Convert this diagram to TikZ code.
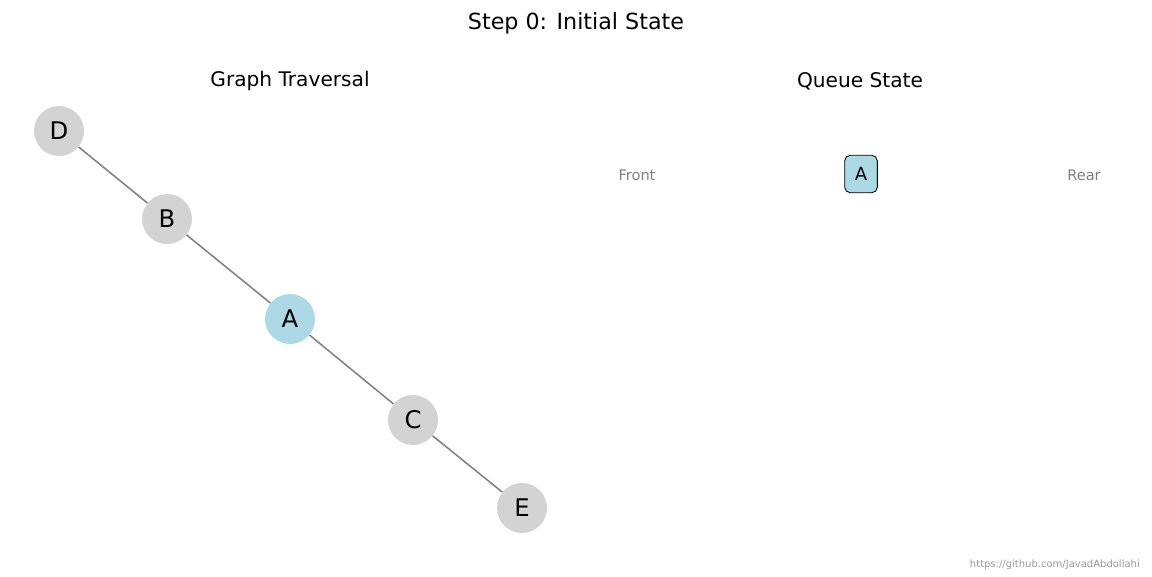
\documentclass[tikz,border=0pt]{standalone}
\usepackage{fontspec}
\setmainfont{DejaVu Sans}
\usetikzlibrary{positioning}

\definecolor{nodegray}{HTML}{D3D3D3}
\definecolor{nodeblue}{HTML}{ADD8E6}
\definecolor{edgegray}{HTML}{808080}

\begin{document}
\begin{tikzpicture}[
      x=0.72pt, y=-0.72pt,
      vertex/.style={
        circle,
        fill=nodegray,
        minimum size=36pt,
        inner sep=0pt,
        font=\fontsize{17.5}{20}\selectfont
      },
      current/.style={vertex, fill=nodeblue},
      edge/.style={draw=edgegray, line width=1.1pt},
      caption/.style={font=\fontsize{14.5}{17}\selectfont},
      queuebox/.style={
        draw,
        rectangle,
        rounded corners=4pt,
        fill=nodeblue,
        line width=0.6pt,
        minimum width=23.5pt,
        minimum height=27pt,
        inner sep=0pt,
        font=\fontsize{13}{15}\selectfont
      },
      endlabel/.style={text=edgegray, font=\fontsize{10.5}{12}\selectfont}
    ]
    \useasboundingbox (0,0) rectangle (1152,576);

    % Titles
    \node (title) [caption, font=\fontsize{16}{19}\selectfont] at (576,23) {Step 0: Initial State};
    \node (graphtitle) [caption] at (290,81) {Graph Traversal};
    \node (queuetitle) [caption] at (860,81) {Queue State};

    % Graph
    \node (D) [vertex] at (59,131) {D};
    \node (B) [vertex] at (167,219) {B};
    \node (A) [current] at (290,319) {A};
    \node (C) [vertex] at (413,420) {C};
    \node (E) [vertex] at (522,508) {E};

    \draw[edge] (D) -- (B);
    \draw[edge] (B) -- (A);
    \draw[edge] (A) -- (C);
    \draw[edge] (C) -- (E);

    % Queue
    \node (front) [endlabel] at (637,175) {Front};
    \node (q1) [queuebox] at (861,174) {A};
    \node (rear) [endlabel] at (1084,175) {Rear};

    % Footer
    \node (footer) [anchor=east, text=black!40, font=\fontsize{7.2}{9}\selectfont, inner sep=0pt] at (1140,565) {https://github.com/JavadAbdollahi};
\end{tikzpicture}
\end{document}
